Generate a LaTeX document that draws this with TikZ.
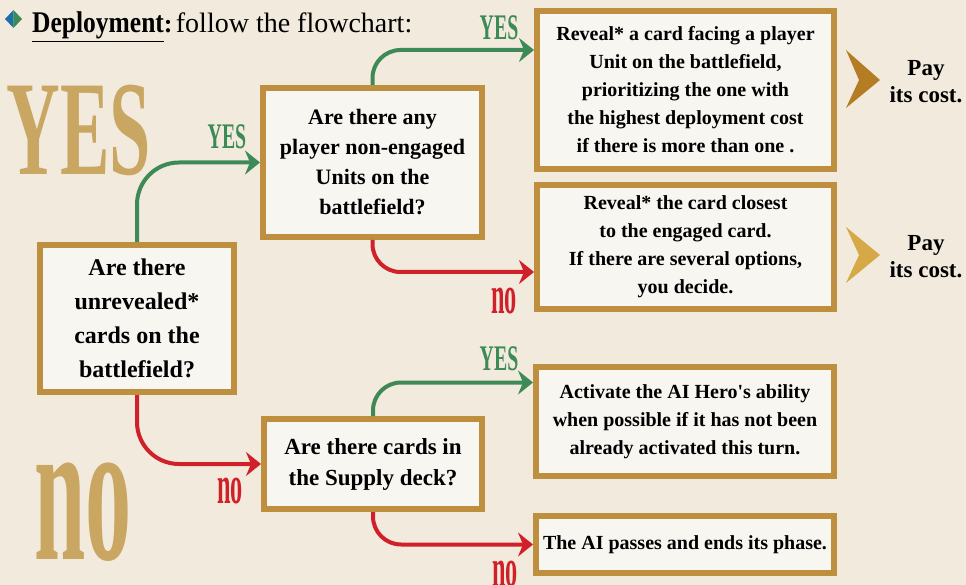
\documentclass[tikz,border=0pt]{standalone}
\usepackage{fontspec}
\setmainfont{Liberation Serif}
\newfontfamily\yesfont{Liberation Serif}[FakeStretch=0.55]
\newfontfamily\nofont{Liberation Serif}[FakeStretch=0.45]
\newfontfamily\headfont{Liberation Serif}[FakeStretch=0.85]
\usetikzlibrary{arrows.meta}
\definecolor{parchment}{HTML}{F2EBDD}
\definecolor{boxfill}{HTML}{F8F6F1}
\definecolor{boxgold}{HTML}{BE8F3E}
\definecolor{yesgreen}{HTML}{3D8A57}
\definecolor{nored}{HTML}{D0202A}
\definecolor{wmgold}{HTML}{C39A4E}
\definecolor{bulletblue}{HTML}{1F6FA8}
\definecolor{paydark}{HTML}{B47D24}
\definecolor{paylight}{HTML}{D6A846}

\begin{document}
\begin{tikzpicture}[
			x=1pt, y=-1pt,
			box/.style={draw=boxgold, line width=6pt, fill=boxfill, align=center, inner sep=0pt,
					font=\bfseries\fontsize{20}{28}\selectfont},
			yesarrow/.style={draw=yesgreen, line width=4pt, -{Stealth[length=15pt, width=24pt, inset=5pt]}},
			noarrow/.style={draw=nored, line width=4pt, -{Stealth[length=15pt, width=24pt, inset=5pt]}},
			yeslabel/.style={text=yesgreen, inner sep=0pt, font=\yesfont\bfseries\fontsize{36}{36}\selectfont},
			nolabel/.style={text=nored, inner sep=0pt, font=\nofont\bfseries\fontsize{54}{54}\selectfont},
			paytext/.style={align=center, inner sep=0pt, font=\bfseries\fontsize{23}{27}\selectfont}
		]
		\useasboundingbox (0,0) rectangle (966,585);
		\fill[parchment] (0,0) rectangle (966,585);

		\node[text=wmgold, opacity=0.85, inner sep=0pt, font=\yesfont\bfseries\fontsize{135}{135}\selectfont] (bigyes) at (79,130) {YES};
		\node[text=wmgold, opacity=0.85, inner sep=0pt, font=\nofont\bfseries\fontsize{205}{205}\selectfont] (bigno) at (83,512) {no};

		\fill[bulletblue] (5,19) -- (13.5,10) -- (13.5,28) -- cycle;
		\fill[yesgreen] (13.5,10) -- (22,19) -- (13.5,28) -- cycle;
		\node[anchor=base west, inner sep=0pt] (title) at (32,33)
		{{\headfont\bfseries\fontsize{30}{30}\selectfont\underline{Deployment}}{\bfseries\fontsize{26}{26}\selectfont:} \fontsize{28}{28}\selectfont follow the flowchart:};

		\node[box, minimum width=194pt, minimum height=147pt, font=\bfseries\fontsize{24}{34}\selectfont] (start) at (137,318.5)
		{Are there\\unrevealed*\\cards on the\\battlefield?};
		\node[box, minimum width=219pt, minimum height=149pt, font=\bfseries\fontsize{22}{30}\selectfont] (units) at (372.5,162.5)
		{Are there any\\player non-engaged\\Units on the\\battlefield?};
		\node[box, minimum width=218pt, minimum height=90pt, font=\bfseries\fontsize{23}{31}\selectfont] (supply) at (373,464)
		{Are there cards in\\the Supply deck?};
		\node[box, minimum width=297pt, minimum height=158pt] (facing) at (685.5,90)
		{Reveal* a card facing a player\\Unit on the battlefield,\\prioritizing the one with\\the highest deployment cost\\if there is more than one .};
		\node[box, minimum width=297pt, minimum height=124pt] (closest) at (685.5,247)
		{Reveal* the card closest\\to the engaged card.\\If there are several options,\\you decide.};
		\node[box, minimum width=298pt, minimum height=109pt] (hero) at (685,421.5)
		{Activate the AI Hero\textquotesingle s ability\\when possible if it has not been\\already activated this turn.};
		\node[box, minimum width=298pt, minimum height=57pt] (passes) at (685,544.5)
		{The AI passes and ends its phase.};

		\draw[yesarrow, rounded corners=42pt] (start.north) |- (units.west);
		\draw[noarrow, rounded corners=42pt] (start.south) |- (supply.west);
		\draw[yesarrow, rounded corners=28pt] (units.north) |- ([yshift=40pt]facing.west);
		\draw[noarrow, rounded corners=28pt] (units.south) |- ([yshift=-25pt]closest.west);
		\draw[yesarrow, rounded corners=28pt] (supply.north) |- ([yshift=39pt]hero.west);
		\draw[noarrow, rounded corners=28pt] (supply.south) |- (passes.west);

		\node[yeslabel] (yes1) at (227,137) {YES};
		\node[nolabel] (no1) at (230,491) {no};
		\node[yeslabel] (yes2) at (499,28) {YES};
		\node[nolabel] (no2) at (504,301) {no};
		\node[yeslabel] (yes3) at (499,359) {YES};
		\node[nolabel] (no3) at (505,574) {no};

		\fill[paydark] (846,50) -- (880,80) -- (846,108) -- (859,80) -- cycle;
		\fill[paylight] (846,227) -- (880,255) -- (846,283) -- (859,255) -- cycle;
		\node[paytext] (pay1) at (926,82) {Pay\\its cost.};
		\node[paytext] (pay2) at (926,257) {Pay\\its cost.};
	\end{tikzpicture}
\end{document}
